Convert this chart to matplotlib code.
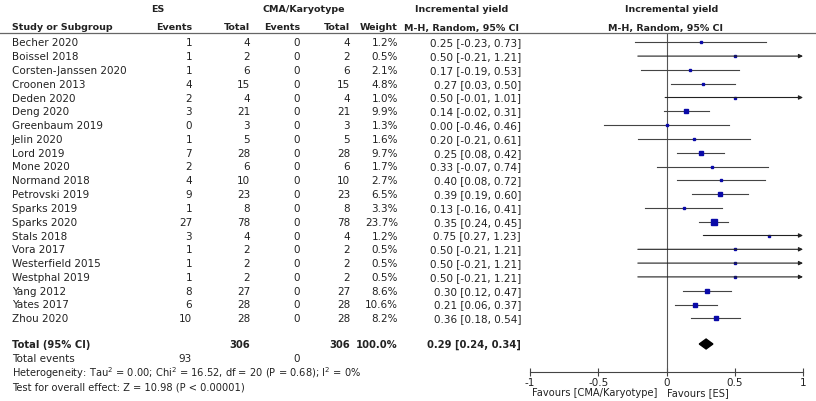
import matplotlib
matplotlib.use("Agg")
import matplotlib.pyplot as plt
from matplotlib.transforms import blended_transform_factory
from matplotlib.lines import Line2D

studies = ["Becher 2020", "Boissel 2018", "Corsten-Janssen 2020", "Croonen 2013",
           "Deden 2020", "Deng 2020", "Greenbaum 2019", "Jelin 2020", "Lord 2019",
           "Mone 2020", "Normand 2018", "Petrovski 2019", "Sparks 2019", "Sparks 2020",
           "Stals 2018", "Vora 2017", "Westerfield 2015", "Westphal 2019", "Yang 2012",
           "Yates 2017", "Zhou 2020"]
es_events = [1, 1, 1, 4, 2, 3, 0, 1, 7, 2, 4, 9, 1, 27, 3, 1, 1, 1, 8, 6, 10]
es_total = [4, 2, 6, 15, 4, 21, 3, 5, 28, 6, 10, 23, 8, 78, 4, 2, 2, 2, 27, 28, 28]
cma_events = [0] * 21
cma_total = [4, 2, 6, 15, 4, 21, 3, 5, 28, 6, 10, 23, 8, 78, 4, 2, 2, 2, 27, 28, 28]
weight = [1.2, 0.5, 2.1, 4.8, 1.0, 9.9, 1.3, 1.6, 9.7, 1.7, 2.7, 6.5, 3.3, 23.7,
          1.2, 0.5, 0.5, 0.5, 8.6, 10.6, 8.2]
est = [0.25, 0.50, 0.17, 0.27, 0.50, 0.14, 0.00, 0.20, 0.25, 0.33, 0.40, 0.39, 0.13,
       0.35, 0.75, 0.50, 0.50, 0.50, 0.30, 0.21, 0.36]
lo = [-0.23, -0.21, -0.19, 0.03, -0.01, -0.02, -0.46, -0.21, 0.08, -0.07, 0.08, 0.19,
      -0.16, 0.24, 0.27, -0.21, -0.21, -0.21, 0.12, 0.06, 0.18]
hi = [0.73, 1.21, 0.53, 0.50, 1.01, 0.31, 0.46, 0.61, 0.42, 0.74, 0.72, 0.60, 0.41,
      0.45, 1.23, 1.21, 1.21, 1.21, 0.47, 0.37, 0.54]

total_est, total_lo, total_hi = 0.29, 0.24, 0.34
total_es_events, total_cma_events = 93, 0
total_n_es, total_n_cma = 306, 306
xticks = [-1, -0.5, 0, 0.5, 1]
xticklabels = ["-1", "-0.5", "0", "0.5", "1"]

W, H = 816, 402
fig = plt.figure(figsize=(W / 100, H / 100), dpi=100)
fig.patch.set_facecolor("white")

# forest axes: x=-1..1 over px 530..803, rows start at px 43.3 with 13.8 px spacing
row0, step = 43.3, 13.8
top_px, bot_px = 33.5, 372.7
ax = fig.add_axes([530 / W, 1 - bot_px / H, 273 / W, (bot_px - top_px) / H])
ax.set_xlim(-1, 1)
ax.set_ylim((bot_px - row0) / step, (top_px - row0) / step)

for s in ["top", "left", "right"]:
    ax.spines[s].set_visible(False)
ax.spines["bottom"].set_color("#444444")
ax.spines["bottom"].set_linewidth(0.8)
ax.set_yticks([])
ax.set_xticks(xticks)
ax.set_xticklabels(xticklabels)
ax.tick_params(axis="x", direction="inout", length=6, width=0.8, color="#444444",
               labelsize=7.5, pad=0.5, labelcolor="#222222")

ax.axvline(0, color="#555555", lw=0.8)

line_c = "#444444"
for i in range(len(studies)):
    if hi[i] > 1:
        ax.annotate("", xy=(1, i), xytext=(lo[i], i),
                    arrowprops=dict(arrowstyle="-|>", color="#222222", lw=0.8,
                                    shrinkA=0, shrinkB=0, mutation_scale=6))
    else:
        ax.plot([lo[i], hi[i]], [i, i], color=line_c, lw=0.8)
    side_px = max(1.2 * weight[i] ** 0.5, 2.0)
    ax.plot(est[i], i, marker="s", ms=side_px * 0.72, color="#0a0aa8", mec="#0a0aa8", lw=0)

# table text
bt = blended_transform_factory(fig.transFigure, ax.transData)
fs = 7.5
tc = "#222222"


def px(x):
    return x / W


def row(y):
    return (y - row0) / step


total_row = row(345)
dh = 0.36
ax.fill([total_lo, total_est, total_hi, total_est],
        [total_row, total_row - dh, total_row, total_row + dh], color="black")

for i, name in enumerate(studies):
    ax.text(px(12), i, name, transform=bt, fontsize=fs, va="center", ha="left", color=tc)
    ax.text(px(192), i, str(es_events[i]), transform=bt, fontsize=fs, va="center", ha="right", color=tc)
    ax.text(px(250), i, str(es_total[i]), transform=bt, fontsize=fs, va="center", ha="right", color=tc)
    ax.text(px(300), i, str(cma_events[i]), transform=bt, fontsize=fs, va="center", ha="right", color=tc)
    ax.text(px(350), i, str(cma_total[i]), transform=bt, fontsize=fs, va="center", ha="right", color=tc)
    ax.text(px(398), i, f"{weight[i]:.1f}%", transform=bt, fontsize=fs, va="center", ha="right", color=tc)
    ax.text(px(521), i, f"{est[i]:.2f} [{lo[i]:.2f}, {hi[i]:.2f}]", transform=bt,
            fontsize=fs, va="center", ha="right", color=tc)

# headers
hb = dict(transform=bt, fontsize=6.8, fontweight="bold", va="center", color=tc)
ax.text(px(158), row(9), "ES", ha="center", **hb)
ax.text(px(304), row(9), "CMA/Karyotype", ha="center", **hb)
ax.text(px(462), row(9), "Incremental yield", ha="center", **hb)
ax.text(px(672), row(9), "Incremental yield", ha="center", **hb)
ax.text(px(12), row(28), "Study or Subgroup", ha="left", **hb)
ax.text(px(192), row(28), "Events", ha="right", **hb)
ax.text(px(250), row(28), "Total", ha="right", **hb)
ax.text(px(300), row(28), "Events", ha="right", **hb)
ax.text(px(350), row(28), "Total", ha="right", **hb)
ax.text(px(398), row(28), "Weight", ha="right", **hb)
ax.text(px(462), row(28), "M-H, Random, 95% CI", ha="center", **hb)
ax.text(px(666), row(28), "M-H, Random, 95% CI", ha="center", **hb)
fig.add_artist(Line2D([0, 1], [row(33.5), row(33.5)], transform=bt, color="#666666", lw=0.9))

# total row
tb = dict(transform=bt, fontsize=7.2, fontweight="bold", va="center", color=tc)
ax.text(px(12), total_row, "Total (95% CI)", ha="left", **tb)
ax.text(px(250), total_row, str(total_n_es), ha="right", **tb)
ax.text(px(350), total_row, str(total_n_cma), ha="right", **tb)
ax.text(px(398), total_row, "100.0%", ha="right", **tb)
ax.text(px(521), total_row, f"{total_est:.2f} [{total_lo:.2f}, {total_hi:.2f}]", ha="right", **tb)

ft = dict(transform=bt, fontsize=fs, va="center", color=tc)
ax.text(px(12), row(359), "Total events", ha="left", **ft)
ax.text(px(192), row(359), str(total_es_events), ha="right", **ft)
ax.text(px(300), row(359), str(total_cma_events), ha="right", **ft)
ft2 = dict(transform=bt, fontsize=7.1, va="center", color=tc)
ax.text(px(12), row(373),
        "Heterogeneity: Tau$^2$ = 0.00; Chi$^2$ = 16.52, df = 20 (P = 0.68); I$^2$ = 0%",
        ha="left", **ft2)
ax.text(px(12), row(388), "Test for overall effect: Z = 10.98 (P < 0.00001)", ha="left", **ft2)

ax.text(px(657), row(393), "Favours [CMA/Karyotype]", ha="right", **ft2)
ax.text(px(667), row(393), "Favours [ES]", ha="left", **ft2)

fig.savefig("out.png", dpi=100)
